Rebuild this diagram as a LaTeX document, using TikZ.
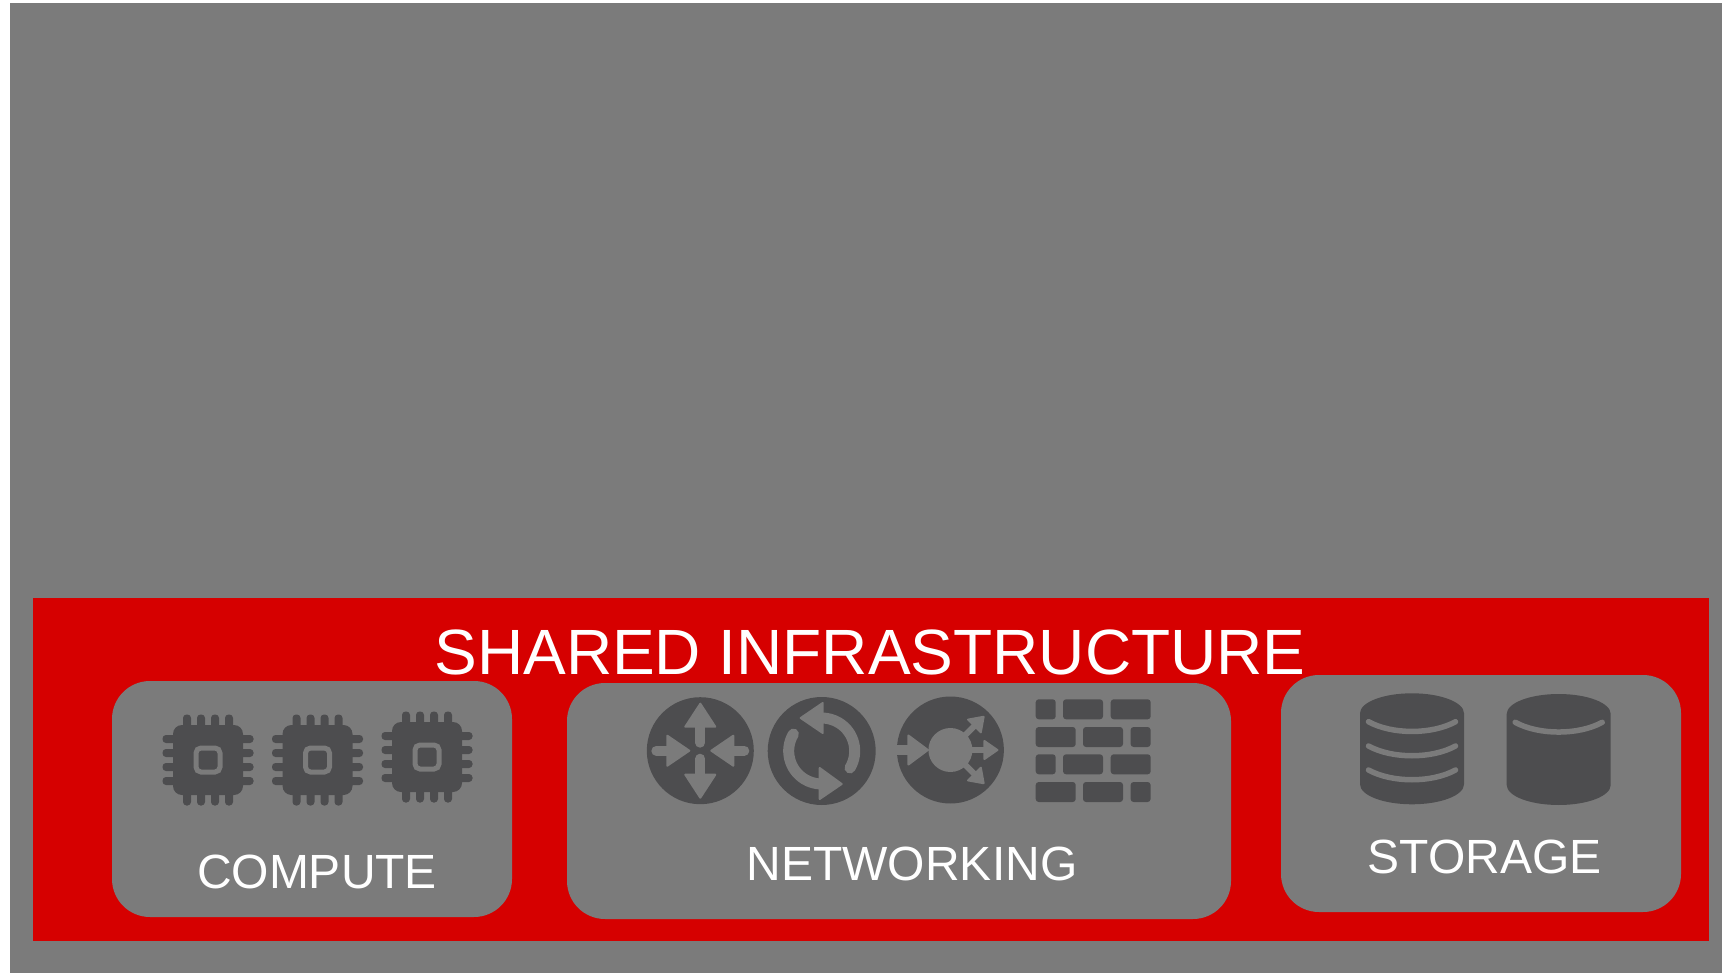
\documentclass[tikz,border=0pt]{standalone}
\usepackage{fontspec}
\setmainfont{Liberation Sans}
\definecolor{slate}{HTML}{7B7B7B}
\definecolor{signal}{HTML}{D60000}
\definecolor{iron}{HTML}{4D4D4F}
\tikzstyle{sheet}=[fill=slate, draw=none, inner sep=0pt, outer sep=0pt, anchor=north west]
\tikzstyle{band}=[fill=signal, draw=none, inner sep=0pt, outer sep=0pt, anchor=north west]
\tikzstyle{panel}=[fill=slate, draw=none, rounded corners=38pt, inner sep=0pt, outer sep=0pt, anchor=north west]
\tikzstyle{disc}=[circle, fill=iron, draw=none, inner sep=0pt, outer sep=0pt]
\tikzstyle{title}=[text=white, inner sep=0pt, anchor=base, font=\fontsize{64}{66}\selectfont]
\tikzstyle{caption}=[text=white, inner sep=0pt, anchor=base, font=\fontsize{48}{50}\selectfont]
\tikzstyle{brick}=[fill=iron, rounded corners=3pt]
\tikzstyle{pin}=[fill=iron, rounded corners=3.5pt]
% x forward in the scope: shaft from #2 to #3, head from #3 to #4
\newcommand{\glyph}[6]{
  \begin{scope}[rotate=#1]
    \draw[slate, line width=#6pt, line cap=round] (#2,0) -- (#3,0);
    \fill[slate, draw=slate, line width=2pt, line join=round] (#3,-#5) -- (#4,0) -- (#3,#5) -- cycle;
  \end{scope}
}
\newcommand{\chip}[2]{
  \begin{scope}[shift={(#1,#2)}]
    \foreach \o in {-21,-7,7,21} {
      \fill[pin] (-45.5,\o-4) rectangle (-30,\o+4);
      \fill[pin] (45.5,\o-4) rectangle (30,\o+4);
      \fill[pin] (\o-4,-45.5) rectangle (\o+4,-30);
      \fill[pin] (\o-4,45.5) rectangle (\o+4,30);
    }
    \fill[iron, rounded corners=9pt] (-35,-35) rectangle (35,35);
    \draw[slate, line width=5pt, rounded corners=5pt] (-12,-12) rectangle (12,12);
  \end{scope}
}
\newcommand{\drum}[2]{
  \fill[iron, shift={(#1,#2)}] (-52,20) arc[start angle=180, end angle=360, x radius=52, y radius=20]
    -- (52,91) arc[start angle=0, end angle=180, x radius=52, y radius=20] -- cycle;
}
\newcommand{\groove}[2]{
  \draw[slate, line width=5.5pt, line cap=round, shift={(#1,#2)}] (-43.5,0) .. controls (-20,13) and (20,13) .. (43.5,0);
}
\begin{document}
\begin{tikzpicture}[x=1pt,y=-1pt]
  \useasboundingbox (0,0) rectangle (1722,973);
  \node[sheet, minimum width=1712pt, minimum height=970pt] (page) at (10,3) {};
  \node[band, minimum width=1676pt, minimum height=343pt] (infra) at (33,598) {};
  \node[title] (infratext) at (870,674) {SHARED INFRASTRUCTURE};

  \node[panel, minimum width=400pt, minimum height=236pt] (compute) at (112,681) {};
  \node[panel, minimum width=664pt, minimum height=236pt] (network) at (567,683) {};
  \node[panel, minimum width=400pt, minimum height=237pt] (storage) at (1281,675) {};
  \node[caption] (computetext) at (317,888) {COMPUTE};
  \node[caption] (networktext) at (912,880) {NETWORKING};
  \node[caption] (storagetext) at (1484.5,873) {STORAGE};

  % compute
  \chip{208}{760}
  \chip{317.5}{760}
  \chip{427}{757}

  % networking
  \node[disc, minimum size=107pt] (router) at (700.3,750.7) {};
  \begin{scope}[shift={(router.center)}]
    \glyph{90}{8}{24}{47}{15}{10}
    \glyph{270}{8}{24}{47}{15}{10}
    \glyph{0}{-44}{-33}{-11}{15}{10}
    \glyph{180}{-44}{-33}{-11}{15}{10}
  \end{scope}
  \node[disc, minimum size=108pt] (sync) at (821.7,751) {};
  \begin{scope}[shift={(sync.center)}]
    \draw[slate, line width=11pt, line cap=round] (31:33) arc[start angle=31, end angle=-90, radius=33];
    \draw[slate, line width=11pt, line cap=round] (-149:33) arc[start angle=-149, end angle=-268, radius=33];
    \fill[slate, draw=slate, line width=2pt, line join=round] (1,-48) -- (-21,-33) -- (1,-18) -- cycle;
    \fill[slate, draw=slate, line width=2pt, line join=round] (-2,17) -- (20,33) -- (-2,48) -- cycle;
  \end{scope}
  \node[disc, minimum size=107pt] (fanout) at (950.4,750) {};
  \begin{scope}[shift={(fanout.center)}]
    \fill[slate] (0,0) circle (22);
    \fill[slate] (-54,-4.75) rectangle (-40,4.75);
    \glyph{0}{-42}{-42}{-22.5}{14.5}{1}
    \glyph{0}{20}{34}{47}{9}{6}
    \glyph{45}{20}{34}{47}{9}{6}
    \glyph{-45}{20}{34}{47}{9}{6}
  \end{scope}

  % firewall
  \foreach \y in {699.3,754.3} {
    \fill[brick] (1035.7,\y) rectangle +(20,20);
    \fill[brick] (1063,\y) rectangle +(40,20);
    \fill[brick] (1110.7,\y) rectangle +(40,20);
  }
  \foreach \y in {727,782} {
    \fill[brick] (1035.7,\y) rectangle +(40,20);
    \fill[brick] (1083,\y) rectangle +(40,20);
    \fill[brick] (1130.6,\y) rectangle +(20,20);
  }

  % storage
  \drum{1412}{693.3}
  \groove{1412}{721.7}
  \groove{1412}{746}
  \groove{1412}{770}
  \drum{1558.7}{694}
  \groove{1558.7}{722.3}
\end{tikzpicture}
\end{document}
